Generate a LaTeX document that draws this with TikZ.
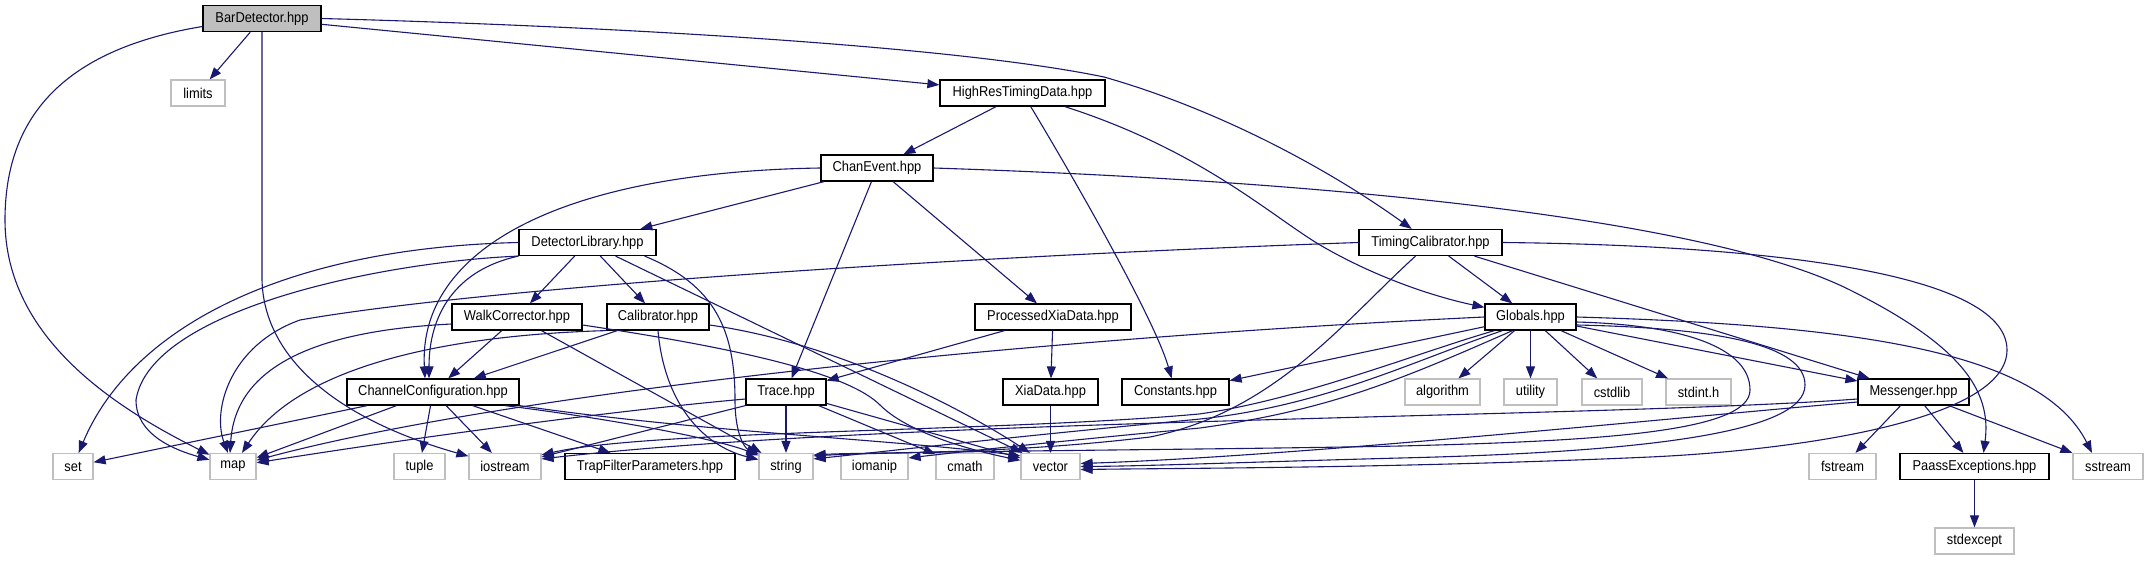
\documentclass[tikz,border=0pt]{standalone}
\usepackage{fontspec}
\setmainfont{Liberation Sans}
\newfontfamily\nodefont[FakeStretch=0.9]{Liberation Sans}
\usetikzlibrary{arrows.meta}
\definecolor{edgec}{HTML}{191970}
\definecolor{sysc}{HTML}{BFBFBF}
\tikzset{
 base/.style={rectangle, minimum height=26pt, inner sep=0pt, font=\nodefont\fontsize{14.3}{16}\selectfont, fill=white},
 doc/.style={base, draw=black, line width=1.2pt},
 sys/.style={base, draw=sysc, line width=1.2pt},
 dep/.style={draw=edgec, line width=1.1pt, -{Triangle[length=12pt,width=9pt]}},
}
\begin{document}
\begin{tikzpicture}[x=1pt,y=-1pt]
\fill[white] (0,0) rectangle (2148,560);
\useasboundingbox (0,0) rectangle (2148,560);
% nodes
\node[doc,fill=sysc,minimum width=118pt] (bar) at (262,18.5) {BarDetector.hpp};
\node[sys,minimum width=54pt] (limits) at (198,93) {limits};
\node[doc,minimum width=165pt] (highres) at (1022.5,93) {HighResTimingData.hpp};
\node[doc,minimum width=112pt] (chanevent) at (877,168) {ChanEvent.hpp};
\node[doc,minimum width=137pt] (detlib) at (587.5,242.5) {DetectorLibrary.hpp};
\node[doc,minimum width=143pt] (timingcal) at (1430.5,242.5) {TimingCalibrator.hpp};
\node[doc,minimum width=130pt] (walk) at (517,317) {WalkCorrector.hpp};
\node[doc,minimum width=102pt] (calib) at (658,317) {Calibrator.hpp};
\node[doc,minimum width=156pt] (procxia) at (1053,317) {ProcessedXiaData.hpp};
\node[doc,minimum width=91pt] (globals) at (1530.5,317) {Globals.hpp};
\node[doc,minimum width=172pt] (chancfg) at (433,392) {ChannelConfiguration.hpp};
\node[doc,minimum width=80pt] (trace) at (786,392) {Trace.hpp};
\node[doc,minimum width=95pt] (xiadata) at (1050.5,392) {XiaData.hpp};
\node[doc,minimum width=107pt] (constants) at (1175.5,392) {Constants.hpp};
\node[sys,minimum width=75pt] (algorithm) at (1442.5,392) {algorithm};
\node[sys,minimum width=53pt] (utility) at (1530.5,392) {utility};
\node[sys,minimum width=60pt] (cstdlib) at (1612,392) {cstdlib};
\node[sys,minimum width=65pt] (stdint) at (1698.5,392) {stdint.h};
\node[doc,minimum width=111pt] (messenger) at (1913.5,392) {Messenger.hpp};
\node[sys,minimum width=40pt] (set) at (73,466.5) {set};
\node[sys,minimum width=46pt] (map) at (233,466.5) {map};
\node[sys,minimum width=51pt] (tuple) at (419.5,466.5) {tuple};
\node[sys,minimum width=72pt] (iostream) at (505,466.5) {iostream};
\node[doc,minimum width=170pt] (trap) at (650,466.5) {TrapFilterParameters.hpp};
\node[sys,minimum width=54pt] (string) at (786,466.5) {string};
\node[sys,minimum width=67pt] (iomanip) at (874.5,466.5) {iomanip};
\node[sys,minimum width=58pt] (cmath) at (965,466.5) {cmath};
\node[sys,minimum width=59pt] (vector) at (1050.5,466.5) {vector};
\node[sys,minimum width=67pt] (fstream) at (1842.5,466.5) {fstream};
\node[doc,minimum width=149pt] (paass) at (1974.5,466.5) {PaassExceptions.hpp};
\node[sys,minimum width=70pt] (sstream) at (2108,466.5) {sstream};
\node[sys,minimum width=79pt] (stdexcept) at (1974.5,541) {stdexcept};
% BarDetector
\draw[dep] (bar) -- (limits);
\draw[dep] ([yshift=-8pt]bar.west) .. controls (60,50) and (5,120) .. (5,220) .. controls (5,340) and (120,410) .. (map);
\draw[dep] (bar.south) -- (262,280) .. controls (264,360) and (340,420) .. (iostream);
\draw[dep] (bar) -- (highres);
\draw[dep] (bar.east) .. controls (600,26) and (950,45) .. (1104,77) .. controls (1220,110) and (1330,170) .. (timingcal);
% HighResTimingData
\draw[dep] (highres) -- (chanevent);
\draw[dep] (highres) .. controls (1075,180) and (1155,320) .. (constants);
\draw[dep] (highres) .. controls (1200,150) and (1270,215) .. (1320,245) .. controls (1380,280) and (1440,298) .. (globals);
% ChanEvent
\draw[dep] (chanevent) -- (detlib);
\draw[dep] (chanevent.west) .. controls (560,172) and (418,250) .. ([xshift=-8pt]chancfg.north);
\draw[dep] (chanevent) -- (trace);
\draw[dep] (chanevent) -- (procxia);
\draw[dep] (chanevent.east) .. controls (1300,180) and (1700,215) .. (1850,290) .. controls (1960,345) and (1992,390) .. ([xshift=9pt]paass.north);
% DetectorLibrary
\draw[dep] (detlib.west) .. controls (280,248) and (130,330) .. (set);
\draw[dep] (detlib.south west) .. controls (380,262) and (150,310) .. (136,400) .. controls (136,435) and (175,450) .. (map);
\draw[dep] (detlib) -- (walk);
\draw[dep] (detlib) -- (calib);
\draw[dep] (detlib.south west) .. controls (455,270) and (429,315) .. ([xshift=-4pt]chancfg.north);
\draw[dep] ([xshift=-12pt]detlib.south east) .. controls (715,285) and (735,330) .. (735,400) .. controls (735,435) and (745,448) .. (string);
\draw[dep] (detlib) -- (vector);
% TimingCalibrator
\draw[dep] (timingcal.west) .. controls (1000,255) and (500,285) .. (300,320) .. controls (230,345) and (212,410) .. (map);
\draw[dep] (timingcal) .. controls (1345,320) and (1275,412) .. (1150,437) .. controls (1000,455) and (870,452) .. ([yshift=-2pt]string.north east);
\draw[dep] (timingcal) -- (globals);
\draw[dep] (timingcal) -- (messenger);
\draw[dep] (timingcal.east) .. controls (1750,245) and (2007,270) .. (2007,350) .. controls (2007,420) and (1800,450) .. (1650,457) .. controls (1400,468) and (1200,468) .. ([yshift=-3pt]vector.east);
% WalkCorrector
\draw[dep] ([yshift=-7pt]walk.west) .. controls (330,330) and (236,360) .. ([xshift=-3pt]map.north);
\draw[dep] (walk) -- (chancfg);
\draw[dep] (walk) -- (string);
\draw[dep] ([yshift=-8pt]walk.east) .. controls (750,350) and (850,375) .. (880,405) .. controls (905,430) and (960,448) .. (vector);
% Calibrator
\draw[dep] (calib.south west) .. controls (450,335) and (300,365) .. (map);
\draw[dep] (calib) -- (chancfg);
\draw[dep] (calib.south) .. controls (664,400) and (700,445) .. (string);
\draw[dep] ([yshift=-8pt]calib.east) .. controls (850,345) and (980,420) .. (vector);
% ProcessedXiaData, XiaData
\draw[dep] (procxia) -- (trace);
\draw[dep] (procxia) -- (xiadata);
\draw[dep] (xiadata) -- (vector);
% Globals
\draw[dep] (globals.west) .. controls (1000,340) and (500,395) .. (map);
\draw[dep] (globals) -- (constants);
\draw[dep] (globals) -- (algorithm);
\draw[dep] (globals) -- (utility);
\draw[dep] (globals) -- (cstdlib);
\draw[dep] (globals) -- (stdint);
\draw[dep] (globals) -- (messenger);
\draw[dep] (globals.east) .. controls (1850,325) and (2040,350) .. ([xshift=-16pt]sstream.north);
\draw[dep] ([xshift=-36pt]globals.south) .. controls (1420,352) and (1300,400) .. (1199,414) .. controls (1000,432) and (650,430) .. ([yshift=-2pt]iostream.north east);
\draw[dep] ([xshift=-28pt]globals.south) .. controls (1410,362) and (1320,408) .. (1190,420) .. controls (1000,438) and (880,452) .. ([yshift=-6pt]string.north east);
\draw[dep] ([xshift=-18pt]globals.south) .. controls (1400,380) and (1330,410) .. (1200,428) .. controls (1050,442) and (960,452) .. ([yshift=-5pt]iomanip.north east);
\draw[dep] ([yshift=-5pt]globals.east) .. controls (1690,325) and (1750,350) .. (1750,390) .. controls (1750,432) and (1600,441) .. (1400,446) .. controls (1200,450) and (900,451) .. ([yshift=-3pt]string.north east);
\draw[dep] ([yshift=-8pt]globals.east) .. controls (1720,328) and (1805,345) .. (1805,385) .. controls (1805,432) and (1650,452) .. (1400,458) .. controls (1250,462) and (1150,466) .. (vector.east);
% ChannelConfiguration
\draw[dep] (chancfg) -- (set);
\draw[dep] (chancfg) -- (map);
\draw[dep] (chancfg) -- (tuple);
\draw[dep] (chancfg) -- (iostream);
\draw[dep] (chancfg) -- (trap);
\draw[dep] ([xshift=72pt]chancfg.south) .. controls (620,420) and (720,440) .. (string);
\draw[dep] (chancfg.south east) .. controls (700,432) and (900,440) .. ([yshift=-3pt]vector.north west);
% Trace
\draw[dep] ([yshift=-7pt]trace.west) .. controls (600,412) and (400,440) .. (map);
\draw[dep] (trace.south west) -- ([yshift=-4pt]iostream.north east);
\draw[dep] (trace) -- (string);
\draw[dep] (trace) -- (cmath);
\draw[dep] (trace) -- (vector);
% Messenger
\draw[dep] ([yshift=-7pt]messenger.west) .. controls (1600,418) and (900,418) .. ([yshift=-6pt]iostream.north east);
\draw[dep] ([yshift=-10pt]messenger.west) .. controls (1650,420) and (1300,456) .. ([yshift=3pt]vector.east);
\draw[dep] (messenger) -- (fstream);
\draw[dep] (messenger) -- (paass);
\draw[dep] (messenger) -- (sstream);
% PaassExceptions
\draw[dep] (paass) -- (stdexcept);
\end{tikzpicture}
\end{document}
